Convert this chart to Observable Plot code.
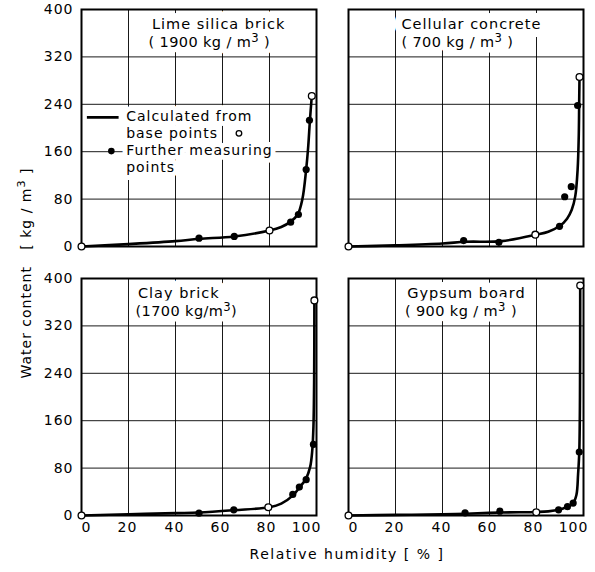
<!DOCTYPE html>
<html>
<head>
<meta charset="utf-8">
<script src="https://cdn.jsdelivr.net/npm/d3@7"></script>
<script src="https://cdn.jsdelivr.net/npm/@observablehq/plot@0.6"></script>
<style>
  body { margin: 0; background: #fff; }
  #chart { width: 595px; height: 572px; }
  #chart svg text { letter-spacing: 1px; }
  #chart svg g.density text { letter-spacing: 0.4px; }
</style>
</head>
<body>
<div id="chart"></div>
<script>
// Materials and their bulk densities
const materials = ["Lime silica brick", "Cellular concrete", "Clay brick", "Gypsum board"];
const densities = ["( 1900 kg / m³ )", "( 700 kg / m³ )", "(1700 kg/m³)", "( 900 kg / m³ )"];

// Calculated sorption curves (relative humidity %, water content kg/m³)
const limeCurveRH = [0, 20, 40, 50, 65, 80, 85, 89, 92, 94, 95.6, 96.5, 97.2, 98];
const limeCurveW  = [0, 4, 9, 13, 17, 27, 33, 42, 54, 80, 130, 170, 213, 254];
const cellCurveRH = [0, 20, 40, 50, 65, 80, 85, 90, 93, 95, 96.5, 97.5, 98, 98.15, 98.3];
const cellCurveW  = [0, 2, 5, 8, 9, 20, 25, 35, 47, 62, 85, 130, 190, 240, 286];
const clayCurveRH = [0, 20, 40, 50, 65, 80, 85, 90, 92.7, 95.5, 97.3, 98.2, 98.7, 99, 99.1];
const clayCurveW  = [0, 2, 4, 5, 9, 14, 20, 34, 47, 62, 82, 110, 150, 230, 363];
const gypCurveRH  = [0, 20, 40, 50, 65, 80, 85, 89.4, 93.2, 95.6, 97, 97.7, 98.2, 98.5, 98.6];
const gypCurveW   = [0, 1, 2, 3, 5, 6, 7, 9.6, 15, 21, 35, 70, 107, 200, 388];

// Base points the curves are calculated from
const limeBaseRH = [0, 80, 98];     const limeBaseW = [0, 27, 254];
const cellBaseRH = [0, 79.5, 98.3]; const cellBaseW = [0, 20, 286];
const clayBaseRH = [0, 79.5, 99.1]; const clayBaseW = [0, 14, 363];
const gypBaseRH  = [0, 79.9, 98.6]; const gypBaseW  = [0, 5.6, 388];

// Further measuring points
const limeMeasRH = [50, 65, 89, 92.3, 95.6, 97];   const limeMeasW = [14, 17, 41, 54, 130, 213];
const cellMeasRH = [49, 64, 89.8, 92, 94.8, 97.5]; const cellMeasW = [10, 7, 34, 84, 101, 238];
const clayMeasRH = [50, 64.8, 89.9, 92.7, 95.6, 98.7]; const clayMeasW = [4, 9.6, 35.6, 48, 60.5, 120];
const gypMeasRH  = [49.6, 64.4, 89.4, 93.2, 95.6, 98.2]; const gypMeasW = [4.5, 7.3, 9.6, 15, 21, 107];

// Axis ticks
const yTicks = [0, 80, 160, 240, 320, 400];
const xGrid = [20, 40, 60, 80];
const yGrid = [80, 160, 240, 320];

// Legend entries
const legendLine = "Calculated from";
const legendLine2 = "base points";
const legendDot = "Further measuring";
const legendDot2 = "points";

// ---- tidy tables ----
const col = m => materials.indexOf(m) % 2;
const row = m => Math.floor(materials.indexOf(m) / 2);
const zipRows = (m, rh, w) => rh.map((v, i) => ({material: m, rh: v, w: w[i]}));

const curves = [
  ...zipRows(materials[0], limeCurveRH, limeCurveW),
  ...zipRows(materials[1], cellCurveRH, cellCurveW),
  ...zipRows(materials[2], clayCurveRH, clayCurveW),
  ...zipRows(materials[3], gypCurveRH, gypCurveW)
];
const basePoints = [
  ...zipRows(materials[0], limeBaseRH, limeBaseW),
  ...zipRows(materials[1], cellBaseRH, cellBaseW),
  ...zipRows(materials[2], clayBaseRH, clayBaseW),
  ...zipRows(materials[3], gypBaseRH, gypBaseW)
];
const measured = [
  ...zipRows(materials[0], limeMeasRH, limeMeasW),
  ...zipRows(materials[1], cellMeasRH, cellMeasW),
  ...zipRows(materials[2], clayMeasRH, clayMeasW),
  ...zipRows(materials[3], gypMeasRH, gypMeasW)
];
const titles = materials.map((m, i) => ({material: m, density: densities[i]}));

// where each panel title starts (in % RH)
const titleStart = {
  "Lime silica brick": 30,
  "Cellular concrete": 22.5,
  "Clay brick": 24,
  "Gypsum board": 25
};
const densityStart = {
  "Lime silica brick": 28.5,
  "Cellular concrete": 22.5,
  "Clay brick": 23,
  "Gypsum board": 24
};

const legendPanel = [{material: materials[0]}];
const facet = {fx: d => col(d.material), fy: d => row(d.material)};
const xAxisStyle = {tickSize: 0, tickPadding: 7, label: null, fontSize: 14};

// each label is drawn twice: a white knock-out behind, then the black text
function label(data, options, cls, knockout = 10) {
  return [
    Plot.text(data, {...facet, textAnchor: "start", ...options, fill: "white", stroke: "white", strokeWidth: knockout, className: cls}),
    Plot.text(data, {...facet, textAnchor: "start", ...options, fill: "black", className: cls})
  ];
}

const plot = Plot.plot({
  width: 595,
  height: 572,
  marginLeft: 80,
  marginRight: 11,
  marginTop: 9,
  marginBottom: 57,
  fx: {domain: [0, 1], paddingInner: 0.119, paddingOuter: 0, axis: null},
  fy: {domain: [0, 1], paddingInner: 0.119, paddingOuter: 0, axis: null},
  x: {domain: [0, 100]},
  y: {domain: [0, 400]},
  style: {fontFamily: "DejaVu Sans", fontSize: "14px", color: "#000", background: "#fff"},
  marks: [
    Plot.gridX(xGrid, {stroke: "#000", strokeOpacity: 0.9, strokeWidth: 1}),
    Plot.gridY(yGrid, {stroke: "#000", strokeOpacity: 0.9, strokeWidth: 1}),
    // tick labels, nudged off the panel edges
    Plot.axisX({...xAxisStyle, ticks: [0], dx: 5}),
    Plot.axisX({...xAxisStyle, ticks: [20, 40], dx: -1}),
    Plot.axisX({...xAxisStyle, ticks: [60], dx: -2}),
    Plot.axisX({...xAxisStyle, ticks: [80], dx: -3}),
    Plot.axisX({...xAxisStyle, ticks: [100], dx: -10}),
    Plot.axisY({ticks: yTicks, tickSize: 0, tickPadding: 8, label: null, fontSize: 14}),

    // panel titles
    ...label(titles, {x: d => titleStart[d.material], y: 375, text: "material", fontSize: 14.5}, "title", 16),
    ...label(titles, {x: d => densityStart[d.material], y: 344, text: "density", fontSize: 14.5}, "density", 11),

    // legend (first panel only)
    ...label(legendPanel, {x: 19, y: 219, text: () => legendLine, fontSize: 14}, "legend"),
    ...label(legendPanel, {x: 19, y: 191, text: () => legendLine2, fontSize: 14}, "legend"),
    ...label(legendPanel, {x: 19, y: 162, text: () => legendDot, fontSize: 14}, "legend"),
    ...label(legendPanel, {x: 19, y: 134, text: () => legendDot2, fontSize: 14}, "legend"),
    Plot.ruleY(legendPanel, {...facet, y: 218, x1: 2.5, x2: 16, stroke: "#000", strokeWidth: 2.6}),
    Plot.dot(legendPanel, {...facet, x: 67, y: 191, r: 2.8, fill: "white", stroke: "#000", strokeWidth: 1.3}),
    Plot.dot(legendPanel, {...facet, x: 12.7, y: 161, r: 3.3, fill: "#000"}),

    Plot.frame({stroke: "#000", strokeWidth: 2}),

    // calculated curves and points
    Plot.line(curves, {...facet, x: "rh", y: "w", z: "material", curve: "catmull-rom",
      stroke: "#000", strokeWidth: 2.6}),
    Plot.dot(measured, {...facet, x: "rh", y: "w", r: 3.6, fill: "#000"}),
    Plot.dot(basePoints, {...facet, x: "rh", y: "w", r: 3.4, fill: "white", stroke: "#000", strokeWidth: 1.3})
  ]
});

document.getElementById("chart").appendChild(plot);

// shared axis titles
const svg = d3.select(plot);
svg.append("text")
  .attr("transform", "translate(27,273) rotate(-90)")
  .attr("text-anchor", "middle")
  .attr("dominant-baseline", "middle")
  .attr("font-size", 14)
  .attr("fill", "#000")
  .text("Water content   [ kg / m³ ]");
svg.append("text")
  .attr("x", 347)
  .attr("y", 555)
  .attr("text-anchor", "middle")
  .attr("dominant-baseline", "middle")
  .attr("font-size", 14)
  .attr("fill", "#000")
  .style("letter-spacing", "1.5px")
  .text("Relative humidity [ % ]");

// set the cubic-metre exponent as a proper raised digit
svg.selectAll("text").each(function () {
  if (this.children.length) return;
  const s = this.textContent;
  if (!s.includes("³")) return;
  const [a, b] = s.split("³");
  const el = d3.select(this);
  el.text(a);
  el.append("tspan").attr("dy", -5).attr("font-size", "0.8em").text("3");
  el.append("tspan").attr("dy", 5).text(b);
});
</script>
</body>
</html>
